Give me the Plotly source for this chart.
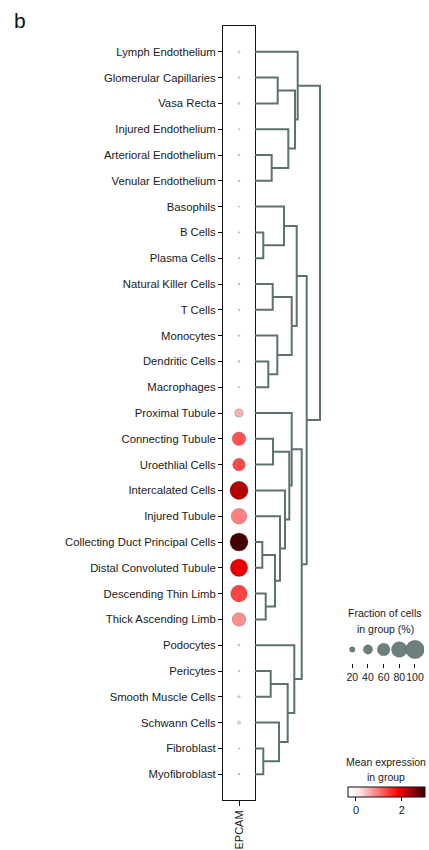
import plotly.graph_objects as go

W, H = 429, 850

cell_types = [
    "Lymph Endothelium", "Glomerular Capillaries", "Vasa Recta", "Injured Endothelium",
    "Arterioral Endothelium", "Venular Endothelium", "Basophils", "B Cells", "Plasma Cells",
    "Natural Killer Cells", "T Cells", "Monocytes", "Dendritic Cells", "Macrophages",
    "Proximal Tubule", "Connecting Tubule", "Uroethlial Cells", "Intercalated Cells",
    "Injured Tubule", "Collecting Duct Principal Cells", "Distal Convoluted Tubule",
    "Descending Thin Limb", "Thick Ascending Limb", "Podocytes", "Pericytes",
    "Smooth Muscle Cells", "Schwann Cells", "Fibroblast", "Myofibroblast",
]
gene = "EPCAM"
# fraction of cells expressing (%)
fraction_pct = [5, 4, 5, 3, 5, 5, 2, 3, 4, 4, 4, 4, 5, 3,
                34, 66, 60, 98, 80, 97, 93, 87, 66,
                5, 4, 6, 9, 3, 4]
# mean expression in group
mean_expr = [0.05, 0.03, 0.05, 0.02, 0.05, 0.05, 0.01, 0.02, 0.03, 0.03, 0.03, 0.03, 0.04, 0.02,
             0.55, 1.25, 1.3, 2.3, 0.9, 2.98, 1.98, 1.36, 0.8,
             0.04, 0.03, 0.05, 0.15, 0.02, 0.03]

# dendrogram linkage: (node id, left, right, height); leaves by name
linkage = [
    ("n1", "Glomerular Capillaries", "Vasa Recta", 22.7),
    ("n2", "Arterioral Endothelium", "Venular Endothelium", 16.7),
    ("n3", "Injured Endothelium", "n2", 33.3),
    ("n4", "n1", "n3", 40.0),
    ("n5", "Lymph Endothelium", "n4", 42.7),
    ("n6", "B Cells", "Plasma Cells", 8.3),
    ("n7", "Basophils", "n6", 29.0),
    ("n8", "Natural Killer Cells", "T Cells", 17.7),
    ("n9", "Dendritic Cells", "Macrophages", 13.3),
    ("n10", "Monocytes", "n9", 22.3),
    ("n11", "n8", "n10", 36.7),
    ("n12", "n7", "n11", 41.7),
    ("n13", "Connecting Tubule", "Uroethlial Cells", 18.0),
    ("n14", "Collecting Duct Principal Cells", "Distal Convoluted Tubule", 7.3),
    ("n15", "Descending Thin Limb", "Thick Ascending Limb", 10.7),
    ("n16", "n14", "n15", 20.0),
    ("n17", "Injured Tubule", "n16", 25.0),
    ("n18", "Intercalated Cells", "n17", 30.0),
    ("n19", "n13", "n18", 34.3),
    ("n20", "Proximal Tubule", "n19", 36.7),
    ("n21", "Pericytes", "Smooth Muscle Cells", 15.7),
    ("n22", "Fibroblast", "Myofibroblast", 8.3),
    ("n23", "Schwann Cells", "n22", 24.0),
    ("n24", "n21", "n23", 32.7),
    ("n25", "Podocytes", "n24", 39.3),
    ("n26", "n20", "n25", 46.7),
    ("n27", "n12", "n26", 51.7),
    ("n28", "n5", "n27", 65.0),
]

size_legend_vals = [20, 40, 60, 80, 100]
cbar_ticks = [0, 2]
cmin, cmax = -0.34, 3.02

DMAX = 18.5


def dot_d(p):
    return DMAX * (p / 100.0) ** 0.75


def px_x(x):
    return x / W


def px_y(y):
    return 1 - y / H


fig = go.Figure()

rows = list(range(len(cell_types)))
fig.add_trace(go.Scatter(
    x=[gene] * len(cell_types), y=rows, mode="markers",
    marker=dict(
        size=[dot_d(p) for p in fraction_pct], sizemode="diameter", opacity=1,
        color=mean_expr, cmin=cmin, cmax=cmax,
        colorscale=[[0, "#ffffff"], [0.15, "#ffe6e6"], [0.65, "#ff0000"], [1, "#3c0000"]],
        line=dict(width=0.5, color="rgba(60,60,60,0.55)"),
        colorbar=dict(
            orientation="h", lenmode="pixels", len=77, thickness=10,
            x=px_x(386.7), xanchor="center", y=px_y(787), yanchor="top",
            xpad=0, ypad=0, outlinewidth=1, outlinecolor="#111",
            tickvals=cbar_ticks, ticks="outside", ticklen=4, tickcolor="#111",
            tickfont=dict(family="Liberation Sans", size=11, color="#222"),
        ),
    ),
    xaxis="x", yaxis="y", showlegend=False, hoverinfo="skip",
))

pos = {name: (0.0, float(i)) for i, name in enumerate(cell_types)}
dx, dy = [], []
for nid, a, b, h in linkage:
    ha, ya = pos[a]
    hb, yb = pos[b]
    dx += [ha, h, h, hb, None]
    dy += [ya, ya, yb, yb, None]
    pos[nid] = (h, (ya + yb) / 2)
fig.add_trace(go.Scatter(
    x=dx, y=dy, mode="lines", line=dict(color="#5d716f", width=2),
    xaxis="x2", yaxis="y", showlegend=False, hoverinfo="skip",
))

fig.add_trace(go.Scatter(
    x=size_legend_vals, y=[0.5] * len(size_legend_vals), mode="markers",
    marker=dict(size=[dot_d(p) for p in size_legend_vals], sizemode="diameter", opacity=1,
                color="#6b7f7d", line=dict(width=0.5, color="rgba(60,60,60,0.5)")),
    xaxis="x3", yaxis="y3", showlegend=False, hoverinfo="skip",
))

font_lab = dict(family="Liberation Sans", size=11.3, color="#1a1a1a")
font_leg = dict(family="Liberation Sans", size=10.5, color="#1a1a1a")

fig.update_layout(
    width=W, height=H, margin=dict(l=0, r=0, t=0, b=0),
    paper_bgcolor="white", plot_bgcolor="white",
    xaxis=dict(domain=[px_x(223), px_x(255)], range=[-0.5, 0.5], type="category",
               showline=True, mirror=True, linecolor="#111", linewidth=1,
               ticks="outside", ticklen=5, tickcolor="#111", tickangle=-90,
               tickfont=dict(family="Liberation Sans", size=11, color="#1a1a1a"),
               showgrid=False, zeroline=False, fixedrange=True,
               anchor="y", automargin=False),
    yaxis=dict(domain=[px_y(800), px_y(26)], range=[29, -1],
               tickvals=rows, ticktext=cell_types, ticks="outside", ticklen=4,
               tickcolor="#111", tickfont=font_lab, showline=True, mirror=True,
               linecolor="#111", linewidth=1, showgrid=False, zeroline=False,
               anchor="x", automargin=False),
    xaxis2=dict(domain=[px_x(255), px_x(335)], range=[0, 80], visible=False,
                anchor="y"),
    xaxis3=dict(domain=[px_x(345), px_x(424)], range=[10.7, 111.5],
                tickvals=size_legend_vals, ticks="outside", ticklen=4, tickcolor="#111",
                tickangle=0, tickfont=dict(family="Liberation Sans", size=10.5, color="#1a1a1a"),
                showline=False, showgrid=False, zeroline=False,
                anchor="y3", automargin=False),
    yaxis3=dict(domain=[px_y(663), px_y(636)], range=[0, 1], visible=False,
                anchor="x3"),
    annotations=[
        dict(text="b", x=px_x(12), y=px_y(21), xref="paper", yref="paper",
             xanchor="left", yanchor="middle", showarrow=False,
             font=dict(family="Liberation Sans", size=21, color="#111")),
        dict(text="Fraction of cells", x=px_x(385), y=px_y(613), xref="paper", yref="paper",
             xanchor="center", yanchor="middle", showarrow=False, font=font_leg),
        dict(text="in group (%)", x=px_x(385), y=px_y(629), xref="paper", yref="paper",
             xanchor="center", yanchor="middle", showarrow=False, font=font_leg),
        dict(text="Mean expression", x=px_x(386), y=px_y(762), xref="paper", yref="paper",
             xanchor="center", yanchor="middle", showarrow=False, font=font_leg),
        dict(text="in group", x=px_x(386), y=px_y(777), xref="paper", yref="paper",
             xanchor="center", yanchor="middle", showarrow=False, font=font_leg),
    ],
)

fig.write_html("out.html", config={"displayModeBar": False},
               post_script="document.body.style.margin='0';document.body.style.overflow='hidden';")
